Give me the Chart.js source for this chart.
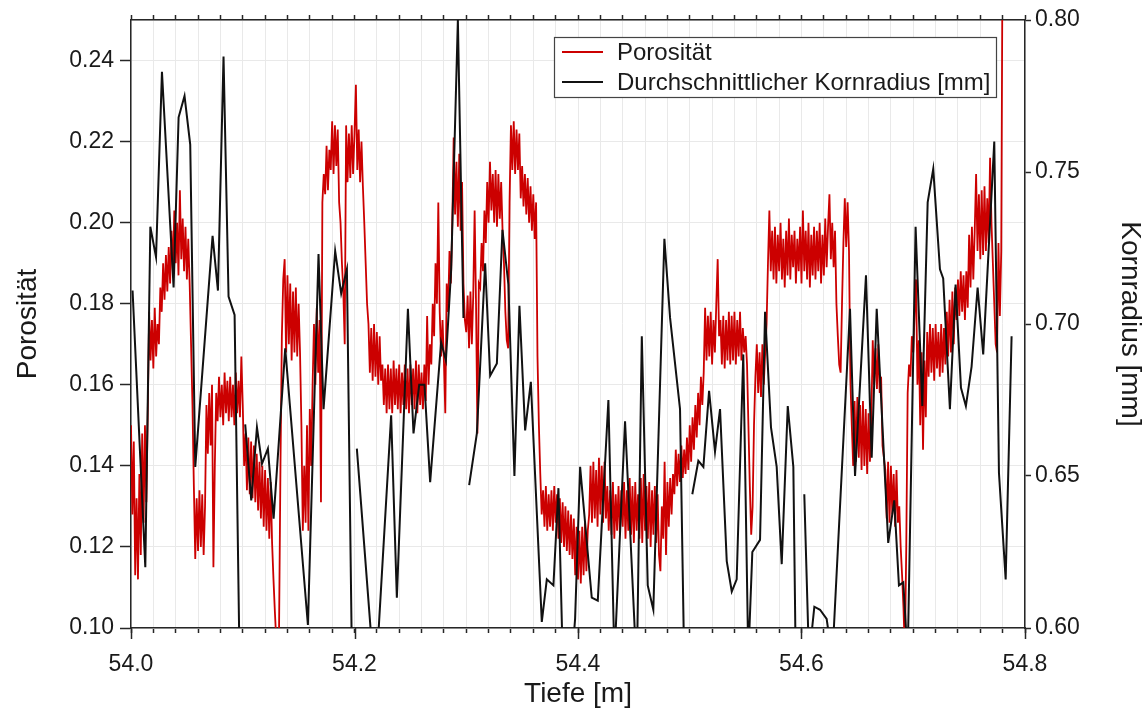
<!DOCTYPE html>
<html>
<head>
<meta charset="utf-8">
<title>Porosität und Kornradius</title>
<script src="https://cdn.jsdelivr.net/npm/chart.js@4.4.1/dist/chart.umd.min.js"></script>
<style>
  html, body { margin: 0; padding: 0; background: #fff; }
  #wrap { position: relative; width: 1148px; height: 711px; }
</style>
</head>
<body>
<div id="wrap"><canvas id="chart"></canvas></div>
<script>
// Kornradius [mm] ueber Tiefe [m]; null = Luecke in der Messung
const radiusDepth = [
  54.0014, 54.0128, 54.0173, 54.0224, 54.0277, 54.0381, 54.0426, 54.0479, 54.0530, 54.0575,
  54.0730, 54.0778, 54.0828, 54.0873, 54.0927, 54.0973, 54.0998, 54.1022, 54.1076, 54.1127,
  54.1172, 54.1225, 54.1276, 54.1380, 54.1583, 54.1678, 54.1723, 54.1827, 54.1881, 54.1932,
  54.1977, 54.2000, 54.2021, 54.2185, 54.2328, 54.2379, 54.2478, 54.2528, 54.2579, 54.2626,
  54.2677, 54.2775, 54.2818, 54.2865, 54.2925, 54.2975, 54.3000, 54.3026, 54.3095, 54.3169,
  54.3214, 54.3274, 54.3324, 54.3377, 54.3431, 54.3476, 54.3527, 54.3578, 54.3676, 54.3721,
  54.3780, 54.3825, 54.3867, 54.3916, 54.3974, 54.4019, 54.4123, 54.4177, 54.4272, 54.4326,
  54.4421, 54.4526, 54.4571, 54.4624, 54.4674, 54.4773, 54.4824, 54.4913, 54.4952, 54.4985,
  54.5023, 54.5077, 54.5122, 54.5173, 54.5226, 54.5271, 54.5331, 54.5376, 54.5420, 54.5479,
  54.5524, 54.5560, 54.5629, 54.5674, 54.5727, 54.5778, 54.5823, 54.5877, 54.5927, 54.5948,
  54.5985, 54.6025, 54.6067, 54.6115, 54.6166, 54.6225, 54.6276, 54.6434, 54.6479, 54.6577,
  54.6628, 54.6673, 54.6776, 54.6830, 54.6872, 54.6911, 54.6950, 54.7021, 54.7081, 54.7129,
  54.7179, 54.7239, 54.7268, 54.7328, 54.7379, 54.7427, 54.7471, 54.7522, 54.7576, 54.7626,
  54.7725, 54.7767, 54.7827, 54.7880
];
const radiusValue = [
  0.711, 0.620, 0.732, 0.722, 0.783, 0.712, 0.768, 0.775, 0.759, 0.653,
  0.729, 0.711, 0.788, 0.709, 0.703, 0.585, null,  0.667, 0.642, 0.666,
  0.654, 0.659, 0.636, 0.692, 0.601, 0.723, 0.672, 0.724, 0.710, 0.718,
  0.590, null,  0.659, 0.580, 0.670, 0.610, 0.705, 0.664, 0.680, 0.680,
  0.648, 0.694, 0.688, 0.718, 0.800, 0.702, null,  0.647, 0.664, 0.720,
  0.683, 0.687, 0.731, 0.713, 0.650, 0.706, 0.665, 0.681, 0.602, 0.616,
  0.614, 0.646, 0.585, 0.575, 0.603, 0.653, 0.610, 0.609, 0.675, 0.590,
  0.668, 0.585, 0.696, 0.614, 0.606, 0.728, 0.702, 0.672, 0.585, null,
  0.644, 0.655, 0.653, 0.678, 0.658, 0.672, 0.622, 0.612, 0.616, 0.690,
  0.590, 0.625, 0.629, 0.704, 0.666, 0.653, 0.621, 0.673, 0.653, 0.590,
  null,  0.644, 0.590, 0.607, 0.606, 0.603, 0.590, 0.705, 0.650, 0.716,
  0.656, 0.705, 0.628, 0.642, 0.614, 0.615, 0.590, 0.732, 0.673, 0.740,
  0.751, 0.718, 0.715, 0.672, 0.713, 0.679, 0.673, 0.686, 0.712, 0.690,
  0.760, 0.651, 0.616, 0.696
];

// Porositaet, gleichmaessig abgetastet ab 54.0 m (Schritt 1.25 mm)
const porosityStart = 54.0;
const porosityStep = 0.00125;
const porosity = [
  0.150, 0.128, 0.146, 0.113, 0.132, 0.112, 0.138, 0.118, 0.148, 0.126,
  0.150, 0.131, 0.153, 0.178, 0.166, 0.176, 0.164, 0.179, 0.167, 0.175,
  0.170, 0.184, 0.178, 0.190, 0.181, 0.192, 0.183, 0.194, 0.185, 0.198,
  0.188, 0.203, 0.190, 0.200, 0.187, 0.208, 0.191, 0.201, 0.188, 0.199,
  0.186, 0.196, 0.185, 0.170, 0.155, 0.135, 0.117, 0.132, 0.119, 0.134,
  0.120, 0.133, 0.118, 0.130, 0.155, 0.143, 0.158, 0.145, 0.160, 0.115,
  0.140, 0.158, 0.151, 0.162, 0.152, 0.160, 0.150, 0.163, 0.153, 0.161,
  0.151, 0.162, 0.152, 0.160, 0.150, 0.163, 0.153, 0.161, 0.152, 0.167,
  0.155, 0.140, 0.148, 0.134, 0.147, 0.133, 0.146, 0.132, 0.145, 0.131,
  0.143, 0.129, 0.141, 0.127, 0.140, 0.125, 0.139, 0.124, 0.137, 0.122,
  0.136, 0.121, 0.112, 0.104, 0.097, 0.093, 0.100, 0.140, 0.172, 0.186,
  0.191, 0.168, 0.187, 0.170, 0.185, 0.166, 0.183, 0.168, 0.184, 0.167,
  0.180, 0.168, 0.150, 0.124, 0.140, 0.126, 0.150, 0.124, 0.154, 0.140,
  0.160, 0.175, 0.160, 0.179, 0.163, 0.176, 0.131, 0.205, 0.212, 0.207,
  0.219, 0.208, 0.218, 0.213, 0.225, 0.212, 0.224, 0.214, 0.223, 0.205,
  0.200, 0.190, 0.183, 0.170, 0.224, 0.210, 0.222, 0.211, 0.224, 0.212,
  0.222, 0.234, 0.213, 0.223, 0.210, 0.220, 0.209, 0.200, 0.190, 0.180,
  0.175, 0.163, 0.174, 0.161, 0.175, 0.162, 0.173, 0.160, 0.172, 0.161,
  0.165, 0.155, 0.164, 0.153, 0.165, 0.154, 0.164, 0.153, 0.166, 0.155,
  0.164, 0.154, 0.165, 0.153, 0.163, 0.155, 0.165, 0.154, 0.164, 0.153,
  0.165, 0.155, 0.164, 0.154, 0.166, 0.153, 0.165, 0.155, 0.163, 0.154,
  0.165, 0.156, 0.177, 0.160, 0.170, 0.165, 0.180, 0.172, 0.190, 0.180,
  0.205, 0.178, 0.167, 0.176, 0.166, 0.153, 0.185, 0.178, 0.193, 0.185,
  0.200, 0.221, 0.202, 0.215, 0.199, 0.217, 0.198, 0.210, 0.185, 0.176,
  0.173, 0.182, 0.169, 0.183, 0.170, 0.182, 0.203, 0.180, 0.148, 0.185,
  0.184, 0.195, 0.188, 0.203, 0.195, 0.210, 0.200, 0.215, 0.203, 0.212,
  0.200, 0.213, 0.199, 0.212, 0.201, 0.210, 0.198, 0.190, 0.178, 0.171,
  0.169, 0.205, 0.224, 0.213, 0.225, 0.212, 0.223, 0.213, 0.222, 0.206,
  0.214, 0.204, 0.212, 0.202, 0.211, 0.200, 0.209, 0.198, 0.207, 0.196,
  0.205, 0.167, 0.150, 0.138, 0.128, 0.134, 0.125, 0.135, 0.124, 0.133,
  0.125, 0.134, 0.124, 0.135, 0.126, 0.133, 0.122, 0.132, 0.121, 0.131,
  0.120, 0.130, 0.119, 0.129, 0.118, 0.128, 0.117, 0.127, 0.113, 0.125,
  0.112, 0.124, 0.111, 0.125, 0.113, 0.126, 0.114, 0.124, 0.128, 0.140,
  0.126, 0.141, 0.127, 0.139, 0.125, 0.142, 0.128, 0.140, 0.126, 0.141,
  0.127, 0.135, 0.124, 0.134, 0.123, 0.136, 0.122, 0.133, 0.124, 0.135,
  0.123, 0.134, 0.125, 0.136, 0.122, 0.134, 0.124, 0.137, 0.123, 0.135,
  0.121, 0.136, 0.124, 0.133, 0.122, 0.137, 0.121, 0.138, 0.124, 0.135,
  0.122, 0.136, 0.120, 0.134, 0.123, 0.135, 0.121, 0.133, 0.118, 0.114,
  0.130, 0.122, 0.141, 0.118, 0.136, 0.125, 0.137, 0.128, 0.138, 0.133,
  0.144, 0.135, 0.143, 0.136, 0.145, 0.137, 0.144, 0.138, 0.147, 0.139,
  0.150, 0.141, 0.152, 0.144, 0.155, 0.147, 0.158, 0.150, 0.162, 0.155,
  0.163, 0.179, 0.166, 0.177, 0.167, 0.178, 0.165, 0.176, 0.168, 0.180,
  0.191, 0.172, 0.176, 0.165, 0.177, 0.164, 0.176, 0.166, 0.178, 0.165,
  0.177, 0.166, 0.178, 0.165, 0.176, 0.167, 0.178, 0.166, 0.174, 0.168,
  0.172, 0.165, 0.150, 0.135, 0.123, 0.130, 0.150, 0.162, 0.170, 0.158,
  0.168, 0.157, 0.170, 0.160, 0.168, 0.175, 0.190, 0.203, 0.188, 0.198,
  0.186, 0.199, 0.185, 0.197, 0.188, 0.200, 0.186, 0.196, 0.184, 0.198,
  0.187, 0.201, 0.186, 0.197, 0.189, 0.198, 0.185, 0.196, 0.188, 0.199,
  0.185, 0.203, 0.188, 0.198, 0.186, 0.200, 0.184, 0.197, 0.187, 0.199,
  0.186, 0.198, 0.188, 0.200, 0.185, 0.197, 0.187, 0.201, 0.189, 0.199,
  0.207, 0.191, 0.200, 0.189, 0.198, 0.180, 0.172, 0.165, 0.163, 0.180,
  0.195, 0.206, 0.194, 0.205, 0.193, 0.161, 0.150, 0.140, 0.156, 0.141,
  0.157, 0.142, 0.155, 0.139, 0.156, 0.140, 0.154, 0.138, 0.153, 0.141,
  0.152, 0.171, 0.160, 0.169, 0.159, 0.170, 0.158, 0.162, 0.145, 0.142,
  0.139, 0.127, 0.141, 0.126, 0.140, 0.128, 0.138, 0.125, 0.139, 0.126,
  0.130, 0.120, 0.113, 0.105, 0.094, 0.120, 0.158, 0.165, 0.162, 0.172,
  0.168, 0.178, 0.186, 0.160, 0.171, 0.150, 0.168, 0.144, 0.166, 0.152,
  0.173, 0.162, 0.175, 0.163, 0.174, 0.161, 0.175, 0.164, 0.173, 0.162,
  0.175, 0.163, 0.174, 0.165, 0.178, 0.167, 0.181, 0.168, 0.183, 0.170,
  0.184, 0.176, 0.186, 0.177, 0.188, 0.178, 0.187, 0.176, 0.188, 0.179,
  0.197, 0.184, 0.199, 0.186, 0.198, 0.212, 0.193, 0.207, 0.191, 0.208,
  0.192, 0.209, 0.193, 0.206, 0.195, 0.216, 0.200, 0.190, 0.180, 0.170,
  0.168, 0.195, 0.177, 0.193, 0.275
];

const depthRange = [54.0, 54.8];
const porosityRange = [0.10, 0.25];
const radiusRange = [0.60, 0.80];

const FONT = '"Liberation Sans", Arial, Helvetica, sans-serif';
const AXIS = '#262626';
const GRID = '#e9e9e9';

Chart.defaults.font.family = FONT;
Chart.defaults.color = '#1a1a1a';

function isMultiple(v, step){
  const q = v / step;
  return Math.abs(q - Math.round(q)) < 1e-6;
}

const porosityPoints = porosity.map((v, i) => ({ x: +(porosityStart + i * porosityStep).toFixed(5), y: v }));
const radiusPoints = radiusDepth.map((d, i) => ({ x: d, y: radiusValue[i] }));

// ticks on the bottom axis at 0.2 m are longer
const majorTicks = {
  id: 'majorTicks',
  afterDraw(chart){
    const { ctx, chartArea, scales } = chart;
    ctx.save();
    ctx.strokeStyle = AXIS;
    ctx.lineWidth = 1.5;
    scales.x.ticks.forEach(t => {
      if(!isMultiple(t.value, 0.2)) return;
      const px = Math.round(scales.x.getPixelForValue(t.value)) + 0.5;
      ctx.beginPath();
      ctx.moveTo(px, chartArea.bottom);
      ctx.lineTo(px, chartArea.bottom + 11);
      ctx.stroke();
    });
    ctx.restore();
  }
};

// boxed legend in the upper right of the plot
const boxLegend = {
  id: 'boxLegend',
  afterDatasetsDraw(chart){
    const { ctx, chartArea } = chart;
    const right = chartArea.right - 29;
    const left = right - 442;
    const top = chartArea.top + 17;
    const height = 60;
    ctx.save();
    ctx.fillStyle = '#fff';
    ctx.fillRect(left, top, right - left, height);
    ctx.strokeStyle = '#444';
    ctx.lineWidth = 1.2;
    ctx.strokeRect(left + 0.5, top + 0.5, right - left, height);
    ctx.font = '24px ' + FONT;
    ctx.textBaseline = 'alphabetic';
    ctx.textAlign = 'left';
    const items = chart.data.datasets.slice().sort((a, b) => a.legendRank - b.legendRank);
    items.forEach((ds, k) => {
      const y = top + 15 + k * 30;
      ctx.strokeStyle = ds.borderColor;
      ctx.lineWidth = 2;
      ctx.beginPath();
      ctx.moveTo(left + 8, y);
      ctx.lineTo(left + 49, y);
      ctx.stroke();
      ctx.fillStyle = '#1a1a1a';
      ctx.fillText(ds.label, left + 63, y + 8);
    });
    ctx.restore();
  }
};

const config = {
  type: 'line',
  data: {
    datasets: [
      {
        label: 'Porosität',
        legendRank: 0,
        data: porosityPoints,
        yAxisID: 'y',
        borderColor: '#cc0000',
        borderWidth: 1.8,
        pointRadius: 0,
        tension: 0,
        order: 1
      },
      {
        label: 'Durchschnittlicher Kornradius [mm]',
        legendRank: 1,
        data: radiusPoints,
        yAxisID: 'y1',
        borderColor: '#111111',
        borderWidth: 2,
        pointRadius: 0,
        tension: 0,
        spanGaps: false,
        order: 0
      }
    ]
  },
  options: {
    responsive: true,
    maintainAspectRatio: false,
    animation: false,
    events: [],
    layout: { padding: 0 },
    plugins: {
      legend: { display: false },
      tooltip: { enabled: false }
    },
    scales: {
      x: {
        type: 'linear',
        position: 'bottom',
        min: depthRange[0],
        max: depthRange[1],
        afterFit: s => { s.height = 83; },
        border: { color: AXIS, width: 1.5 },
        grid: { color: GRID, lineWidth: 1, tickLength: 5, tickColor: AXIS, tickWidth: 1.5 },
        ticks: {
          stepSize: 0.02,
          autoSkip: false,
          maxRotation: 0,
          padding: 18,
          font: { size: 23 },
          callback: v => isMultiple(v, 0.2) ? v.toFixed(1) : ''
        },
        title: { display: true, text: 'Tiefe [m]', font: { size: 28 }, padding: { top: 0, bottom: 0 } }
      },
      xTop: {
        type: 'linear',
        position: 'top',
        min: depthRange[0],
        max: depthRange[1],
        afterFit: s => { s.height = 20; },
        border: { color: AXIS, width: 1.5 },
        grid: { drawOnChartArea: false, tickLength: 5, tickColor: AXIS, tickWidth: 1.5 },
        ticks: { stepSize: 0.02, autoSkip: false, maxRotation: 0, callback: () => '' }
      },
      y: {
        type: 'linear',
        position: 'left',
        min: porosityRange[0],
        max: porosityRange[1],
        afterFit: s => { s.width = 131; },
        border: { color: AXIS, width: 1.5 },
        grid: {
          color: GRID,
          tickLength: 11,
          tickWidth: 1.5,
          tickColor: c => (c.tick && isMultiple(c.tick.value, 0.02)) ? AXIS : 'rgba(0,0,0,0)'
        },
        ticks: {
          stepSize: 0.02,
          autoSkip: false,
          padding: 6,
          font: { size: 23 },
          callback: v => isMultiple(v, 0.02) ? v.toFixed(2) : ''
        },
        title: { display: true, text: 'Porosität', font: { size: 28 }, padding: { top: 11, bottom: 0 } }
      },
      y1: {
        type: 'linear',
        position: 'right',
        min: radiusRange[0],
        max: radiusRange[1],
        afterFit: s => { s.width = 123; },
        border: { color: AXIS, width: 1.5 },
        grid: { drawOnChartArea: false, tickLength: 6, tickWidth: 1.5, tickColor: AXIS },
        ticks: {
          stepSize: 0.05,
          autoSkip: false,
          padding: 4,
          font: { size: 23 },
          callback: v => v.toFixed(2)
        },
        title: { display: true, text: 'Kornradius [mm]', font: { size: 28 }, padding: { top: 1, bottom: 0 } }
      }
    }
  },
  plugins: [majorTicks, boxLegend]
};

new Chart(document.getElementById('chart').getContext('2d'), config);
</script>
</body>
</html>
